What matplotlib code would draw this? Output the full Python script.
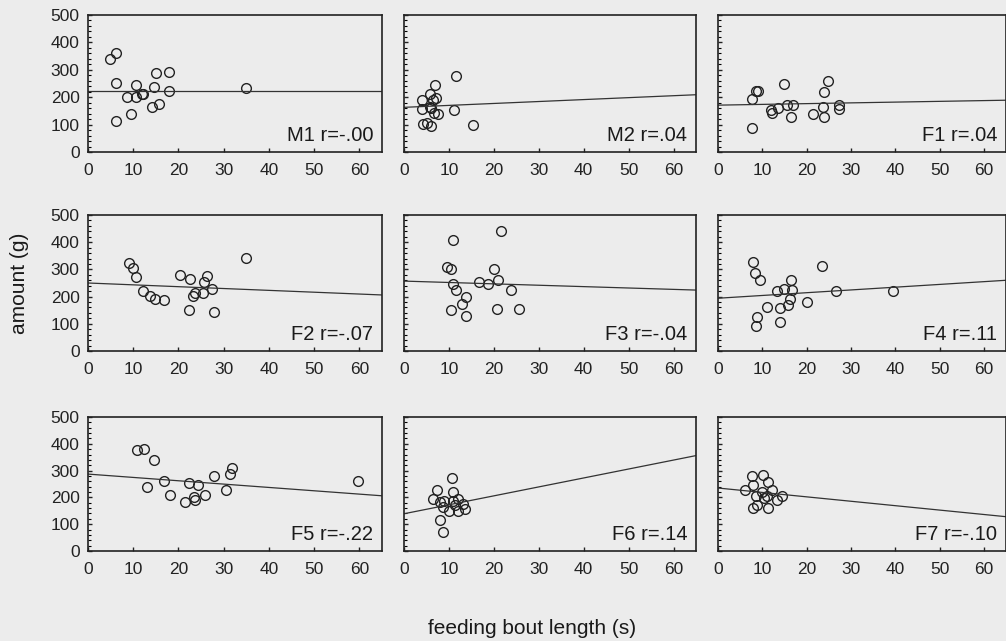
import numpy as np
import matplotlib.pyplot as plt
from matplotlib.ticker import MultipleLocator

plt.rcParams['font.family'] = ['Liberation Sans', 'DejaVu Sans']

# values (bout length s, amount g)
m1_x = [4.8, 6.3, 6.3, 8.7, 10.6, 10.7, 11.9, 12.2, 9.6, 6.3, 14.6, 15.0, 17.8, 17.8, 14.2, 15.7, 35.0]
m1_y = [338, 360, 252, 201, 244, 199, 211, 213, 137, 113, 238, 290, 293, 222, 165, 174, 234]
m2_x = [11.6, 7.0, 5.8, 4.1, 7.1, 6.4, 3.9, 6.1, 6.7, 7.6, 11.1, 4.3, 5.2, 6.1, 15.3, 5.8]
m2_y = [277, 243, 210, 189, 198, 189, 156, 162, 143, 137, 152, 104, 106, 94, 100, 165]
f1_x = [7.6, 7.6, 8.5, 9.1, 15.0, 11.9, 12.1, 13.6, 15.6, 17.0, 16.4, 21.5, 23.6, 23.9, 23.9, 24.8, 27.4, 27.2]
f1_y = [88, 195, 223, 223, 248, 155, 143, 159, 171, 173, 128, 140, 165, 128, 220, 259, 173, 156]
f2_x = [9.1, 9.9, 10.7, 12.1, 13.7, 14.8, 16.7, 20.4, 22.6, 22.4, 23.2, 23.7, 25.6, 26.3, 25.4, 27.4, 27.8, 35.0]
f2_y = [325, 304, 271, 222, 202, 190, 187, 279, 265, 151, 203, 214, 252, 274, 212, 227, 145, 341]
f3_x = [10.8, 21.7, 9.6, 10.5, 11.0, 11.6, 13.7, 13.0, 10.4, 13.9, 16.7, 18.7, 20.1, 21.0, 23.9, 20.8, 25.6]
f3_y = [407, 441, 309, 301, 246, 223, 200, 172, 151, 130, 252, 248, 300, 261, 223, 154, 153]
f4_x = [7.8, 8.3, 9.4, 23.5, 16.4, 15.0, 13.3, 16.7, 16.3, 15.9, 13.9, 11.1, 20.1, 26.7, 39.5, 8.7, 8.5, 13.9]
f4_y = [328, 285, 260, 311, 260, 227, 221, 223, 190, 169, 159, 163, 181, 220, 221, 126, 92, 105]
f5_x = [10.8, 12.4, 14.5, 13.0, 16.9, 18.2, 21.5, 22.4, 24.3, 23.4, 23.6, 25.9, 27.8, 30.4, 31.5, 31.9, 59.6]
f5_y = [376, 382, 341, 237, 261, 208, 184, 254, 248, 200, 190, 208, 280, 227, 287, 308, 261]
f6_x = [10.6, 7.4, 10.8, 6.5, 8.1, 9.0, 10.8, 12.1, 13.2, 13.6, 12.1, 10.1, 8.6, 8.1, 8.6, 11.3]
f6_y = [272, 228, 219, 193, 182, 188, 188, 195, 176, 158, 148, 151, 166, 117, 71, 172]
f7_x = [7.6, 10.2, 11.3, 8.0, 6.1, 12.1, 8.5, 10.4, 13.3, 14.4, 8.7, 7.9, 11.3, 9.9, 11.0]
f7_y = [278, 284, 259, 247, 226, 228, 206, 198, 189, 204, 170, 160, 160, 222, 204]

labels = ['M1 r=-.00', 'M2 r=.04', 'F1 r=.04',
          'F2 r=-.07', 'F3 r=-.04', 'F4 r=.11',
          'F5 r=-.22', 'F6 r=.14', 'F7 r=-.10']
xs = [m1_x, m2_x, f1_x, f2_x, f3_x, f4_x, f5_x, f6_x, f7_x]
ys = [m1_y, m2_y, f1_y, f2_y, f3_y, f4_y, f5_y, f6_y, f7_y]
# fitted line value at x=0 and at x=65
line_y0 = [223, 163, 171, 250, 257, 194, 287, 139, 235]
line_y1 = [223, 209, 189, 206, 224, 260, 206, 356, 128]

bg = '#ececec'
W, H = 1006, 641
fig = plt.figure(figsize=(W / 100, H / 100), dpi=100, facecolor=bg)

lefts = [88, 404, 718]
widths = [294, 292, 288]
tops = [15, 215, 417]
heights = [137, 136, 134]

for i in range(9):
    r, c = divmod(i, 3)
    ax = fig.add_axes([lefts[c] / W, 1 - (tops[r] + heights[r]) / H,
                       widths[c] / W, heights[r] / H])
    ax.set_facecolor(bg)
    ax.plot(xs[i], ys[i], 'o', ms=7, mfc='none', mec='#222222', mew=1.0)
    ax.plot([0, 65], [line_y0[i], line_y1[i]], '-', color='#333333', lw=0.9)
    ax.set_xlim(0, 65)
    ax.set_ylim(0, 500)
    ax.xaxis.set_major_locator(MultipleLocator(10))
    ax.yaxis.set_major_locator(MultipleLocator(100))
    ax.yaxis.set_minor_locator(MultipleLocator(20))
    ax.tick_params(direction='in', length=3, width=1, labelsize=12.5,
                   colors='#222222', top=False, right=False)
    ax.tick_params(axis='x', pad=8)
    ax.tick_params(axis='y', pad=6)
    ax.tick_params(which='minor', direction='in', length=2, width=0.8,
                   left=True, bottom=False)
    ax.set_xticks(range(0, 61, 10))
    if c != 0:
        ax.set_yticklabels([])
    for s in ax.spines.values():
        s.set_color('#222222')
        s.set_linewidth(1.2)
    ax.text(0.97, 0.08, labels[i], transform=ax.transAxes, ha='right',
            va='baseline', fontsize=14.5, color='#1a1a1a')

fig.text(20 / W, 1 - 283 / H, 'amount (g)', rotation=90, ha='center',
         va='center', fontsize=15, color='#1a1a1a')
fig.text(532 / W, 1 - 628 / H, 'feeding bout length (s)', ha='center',
         va='center', fontsize=15, color='#1a1a1a')

fig.savefig('out.png', dpi=100, facecolor=bg)
